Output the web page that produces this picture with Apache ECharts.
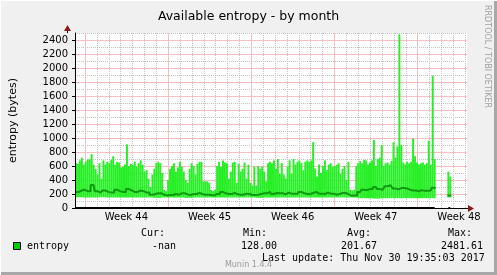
<!DOCTYPE html>
<html><head><meta charset="utf-8">
<script src="https://cdn.jsdelivr.net/npm/echarts@6/dist/echarts.min.js"></script>
<style>html,body{margin:0;padding:0;background:#f0f0f0}#c{width:497px;height:275px}</style>
</head><body><div id="c"></div>
<script>
// ---------- data ----------
const chartTitle = 'Available entropy - by month';
const yAxisName = 'entropy (bytes)';
const weekLabels = ['Week 44', 'Week 45', 'Week 46', 'Week 47', 'Week 48'];
const weekLabelDays = [3.5, 10.5, 17.5, 24.5, 31.5];   // mid-week positions (days after Week 44 start)
const weekLineDays = [0, 7, 14, 21, 28];
const dayLineDays = [1, 2, 3, 4, 5, 6, 8, 9, 10, 11, 12, 13, 15, 16, 17, 18, 19, 20, 22, 23, 24, 25, 26, 27, 29, 30, 31, 32];
const yTickValues = [0, 200, 400, 600, 800, 1000, 1200, 1400, 1600, 1800, 2000, 2200, 2400];
const yMinorValues = [100, 300, 500, 700, 900, 1100, 1300, 1500, 1700, 1900, 2100, 2300, 2500];

// maximum per 2-px column (~4 h each), starting at the left edge of the graph
const maxVals = [
  640,630,680,720,620,660,690,700,770,620,
  560,480,640,420,680,620,660,640,690,740,
  620,660,650,580,590,620,910,600,630,620,
  660,590,640,680,620,520,540,420,300,480,
  560,640,660,640,500,260,240,400,560,600,
  640,520,580,660,590,520,400,360,560,640,
  600,480,630,660,660,380,380,380,360,260,
  240,260,600,660,590,680,650,640,420,520,
  650,660,360,630,520,560,650,420,620,360,
  320,590,320,600,560,590,520,
  380,640,660,640,680,560,700,490,640,480,
  420,590,680,490,700,620,660,680,640,540,
  660,680,660,680,940,560,450,620,500,600,
  680,540,620,640,590,600,620,640,490,560,
  600,400,660,260,250,260,
  600,640,670,640,690,680,620,650,680,970,
  600,700,720,900,600,640,650,620,670,940,
  720,880,2481.61,900,650,620,660,640,660,990,
  740,650,620,640,650,620,640,960,620,1890,
  700,
  null,null,null,null,null,null,520,450
];
// average per 4-px column
const avgVals = [
  230,250,260,240,330,240,220,250,230,220,
  260,240,230,270,250,230,250,240,220,190,
  200,210,190,180,185,200,190,210,195,185,
  200,215,200,190,185,180,200,230,210,200,
  215,195,190,205,200,185,190,200,210,230,
  200,215,210,195,220,205,200,230,210,200,
  215,230,205,200,220,205,190,200,215,200,
  175,180,230,260,255,270,300,270,260,310,
  325,280,265,285,280,260,250,240,255,245,
  250,290,
  null,null,null,180
];
// minimum per 8-px column
const minVals = [
  155,150,150,155,150,150,150,150,150,150,
  145,150,150,150,145,150,150,150,150,150,
  150,150,150,145,150,150,150,150,150,150,
  150,150,150,150,150,150,
  140,140,135,140,140,140,140,140,140,140,
  null,150
];
const legendName = 'entropy';
const legendHeaders = ['Cur:', 'Min:', 'Avg:', 'Max:'];
const legendValues = ['-nan', '128.00', '201.67', '2481.61'];
const lastUpdate = 'Last update: Thu Nov 30 19:35:03 2017';
const footer = 'Munin 1.4.4';
const sideText = 'RRDTOOL / TOBI OETIKER';

// ---------- layout ----------
const GRID = {left: 67, top: 33, width: 400, height: 175};
const XMIN = -0.825, XMAX = 32.175;      // 33 days across the graph
const NCOL = 200;
const MONO = 'DejaVu Sans Mono';
const SANS = 'DejaVu Sans';

const cats = Array.from({length: NCOL}, (_, i) => i);
const has = i => maxVals[i] != null;
const baseData = cats.map(i => has(i) ? minVals[Math.floor(i / 4)] : '-');
const rangeData = cats.map(i => has(i) ? maxVals[i] - minVals[Math.floor(i / 4)] : '-');
const avgData = cats.map(i => has(i) && avgVals[Math.floor(i / 2)] != null ? avgVals[Math.floor(i / 2)] : '-');
const zeroData = cats.map(i => has(i) ? 0 : '-');

// grid line items: [xValue, yValue, orientation(0 = vertical, 1 = horizontal)]
const minorGridData = dayLineDays.map(d => [d, 0, 0]).concat(yMinorValues.map(v => [XMIN, v, 1]));
const majorGridData = weekLineDays.map(d => [d, 0, 0]).concat(yTickValues.filter(v => v > 0).map(v => [XMIN, v, 1]));

function gridRenderer(st) {
  return function (params, api) {
    const cs = params.coordSys;
    if (api.value(2) === 0) {
      const x = Math.round(api.coord([api.value(0), 0])[0]) + 0.5;
      return {type: 'line', shape: {x1: x, y1: cs.y, x2: x, y2: cs.y + cs.height}, style: Object.assign({}, st)};
    }
    const y = Math.round(api.coord([XMIN, api.value(1)])[1]) + 0.5;
    return {type: 'line', shape: {x1: cs.x, y1: y, x2: cs.x + cs.width, y2: y}, style: Object.assign({}, st)};
  };
}

const chart = echarts.init(document.getElementById('c'), null, {renderer: 'canvas'});
const hdrX = [141, 243, 347, 448];
const valX = [152, 241, 341, 441];
const graphics = [
  {type: 'rect', shape: {x: 494, y: 0, width: 3, height: 275}, style: {fill: '#a8a8a8'}, silent: true},
  {type: 'rect', shape: {x: 0, y: 272, width: 497, height: 3}, style: {fill: '#a8a8a8'}, silent: true},
  {type: 'rect', shape: {x: 0, y: 0, width: 497, height: 1}, style: {fill: '#ffffff'}, silent: true},
  {type: 'rect', shape: {x: 0, y: 0, width: 1, height: 275}, style: {fill: '#ffffff'}, silent: true},
  // axis extensions and arrows
  {type: 'line', shape: {x1: 67.5, y1: 33, x2: 67.5, y2: 29}, style: {stroke: '#000', lineWidth: 1}, silent: true},
  {type: 'polygon', shape: {points: [[64, 31], [71, 31], [67.5, 25]]}, style: {fill: '#8b1a1a'}, silent: true},
  {type: 'line', shape: {x1: 467, y1: 208.5, x2: 470, y2: 208.5}, style: {stroke: '#000', lineWidth: 1}, silent: true},
  {type: 'polygon', shape: {points: [[468, 205], [468, 212], [474, 208.5]]}, style: {fill: '#8b1a1a'}, silent: true},
  // side text
  {type: 'text', x: 487, y: 5, rotation: -Math.PI / 2,
   style: {text: sideText, font: '8px "DejaVu Sans"', fill: '#a0a0a0', textAlign: 'left', textVerticalAlign: 'middle'}, silent: true},
  // legend
  {type: 'rect', shape: {x: 13.5, y: 242.5, width: 7, height: 7}, style: {fill: '#00cc00', stroke: '#000', lineWidth: 1}, silent: true},
  {type: 'text', x: 27, y: 246, style: {text: legendName, font: '10px "' + MONO + '"', fill: '#000', textVerticalAlign: 'middle'}, silent: true},
  {type: 'text', x: 262, y: 258, style: {text: lastUpdate, font: '10px "' + MONO + '"', fill: '#000', textVerticalAlign: 'middle'}, silent: true},
  {type: 'text', x: 248.5, y: 265, style: {text: footer, font: '8px "' + SANS + '"', fill: '#9a9a9a', textAlign: 'center', textVerticalAlign: 'middle'}, silent: true}
];
legendHeaders.forEach((t, k) => graphics.push({type: 'text', x: hdrX[k], y: 233.5,
  style: {text: t, font: '10px "' + MONO + '"', fill: '#000', textVerticalAlign: 'middle'}, silent: true}));
legendValues.forEach((t, k) => graphics.push({type: 'text', x: valX[k], y: 246,
  style: {text: t, font: '10px "' + MONO + '"', fill: '#000', textVerticalAlign: 'middle'}, silent: true}));

chart.setOption({
  animation: false,
  backgroundColor: '#f0f0f0',
  title: {text: chartTitle, left: 'center', top: 5,
    textStyle: {fontFamily: SANS, fontSize: 12.5, fontWeight: 'normal', color: '#000'}},
  grid: {left: GRID.left, top: GRID.top, width: GRID.width, height: GRID.height,
    show: true, backgroundColor: '#fff', borderWidth: 0, containLabel: false},
  xAxis: [
    {type: 'category', data: cats, show: false, boundaryGap: true},
    {type: 'value', min: XMIN, max: XMAX, position: 'bottom', z: 5,
      axisLine: {show: true, onZero: false, lineStyle: {color: '#000', width: 1}},
      axisTick: {show: false},
      axisLabel: {show: true, customValues: weekLabelDays, margin: 4,
        fontFamily: SANS, fontSize: 10, color: '#000',
        formatter: v => { const k = weekLabelDays.indexOf(Math.round(v * 10) / 10); return k >= 0 ? weekLabels[k] : ''; }},
      splitLine: {show: false}}
  ],
  yAxis: [
    {type: 'value', min: 0, max: 2500, interval: 100, z: 5, position: 'left',
      axisLine: {show: true, onZero: false, lineStyle: {color: '#000', width: 1}},
      axisTick: {show: true, length: 3, customValues: yTickValues, lineStyle: {color: '#000'}},
      axisLabel: {show: true, margin: 7, fontFamily: SANS, fontSize: 10, color: '#000',
        customValues: yTickValues,
        formatter: v => (v % 200 === 0 && v <= 2400) ? String(v) : ''},
      name: yAxisName, nameLocation: 'middle', nameGap: 56,
      nameTextStyle: {fontFamily: SANS, fontSize: 11, color: '#000'},
      splitLine: {show: false}}
  ],
  series: [
    {type: 'custom', name: 'minorGrid', data: minorGridData, xAxisIndex: 1, yAxisIndex: 0,
      encode: {x: 0, y: 1}, silent: true, z: 1, clip: false,
      renderItem: gridRenderer({stroke: '#c4c4c4', lineWidth: 1, lineDash: [1, 1]})},
    {type: 'custom', name: 'majorGrid', data: majorGridData, xAxisIndex: 1, yAxisIndex: 0,
      encode: {x: 0, y: 1}, silent: true, z: 1, clip: false,
      renderItem: gridRenderer({stroke: '#f6bebe', lineWidth: 1})},
    {type: 'bar', name: 'min', stack: 'e', data: baseData, xAxisIndex: 0, yAxisIndex: 0,
      barCategoryGap: '0%', itemStyle: {color: 'rgba(0,0,0,0)'}, silent: true, z: 2},
    {type: 'bar', name: 'max', stack: 'e', data: rangeData, xAxisIndex: 0, yAxisIndex: 0,
      barCategoryGap: '0%', itemStyle: {color: '#26ef26'}, silent: true, z: 2},
    {type: 'line', name: 'avg', data: avgData, xAxisIndex: 0, yAxisIndex: 0, step: 'middle',
      symbol: 'none', connectNulls: false, lineStyle: {color: '#109a10', width: 2}, silent: true, z: 4},
    {type: 'line', name: 'zero', data: zeroData, xAxisIndex: 0, yAxisIndex: 0,
      symbol: 'none', connectNulls: false, lineStyle: {color: '#000', width: 2}, silent: true, z: 5}
  ],
  graphic: {elements: graphics}
});
</script>
</body></html>
